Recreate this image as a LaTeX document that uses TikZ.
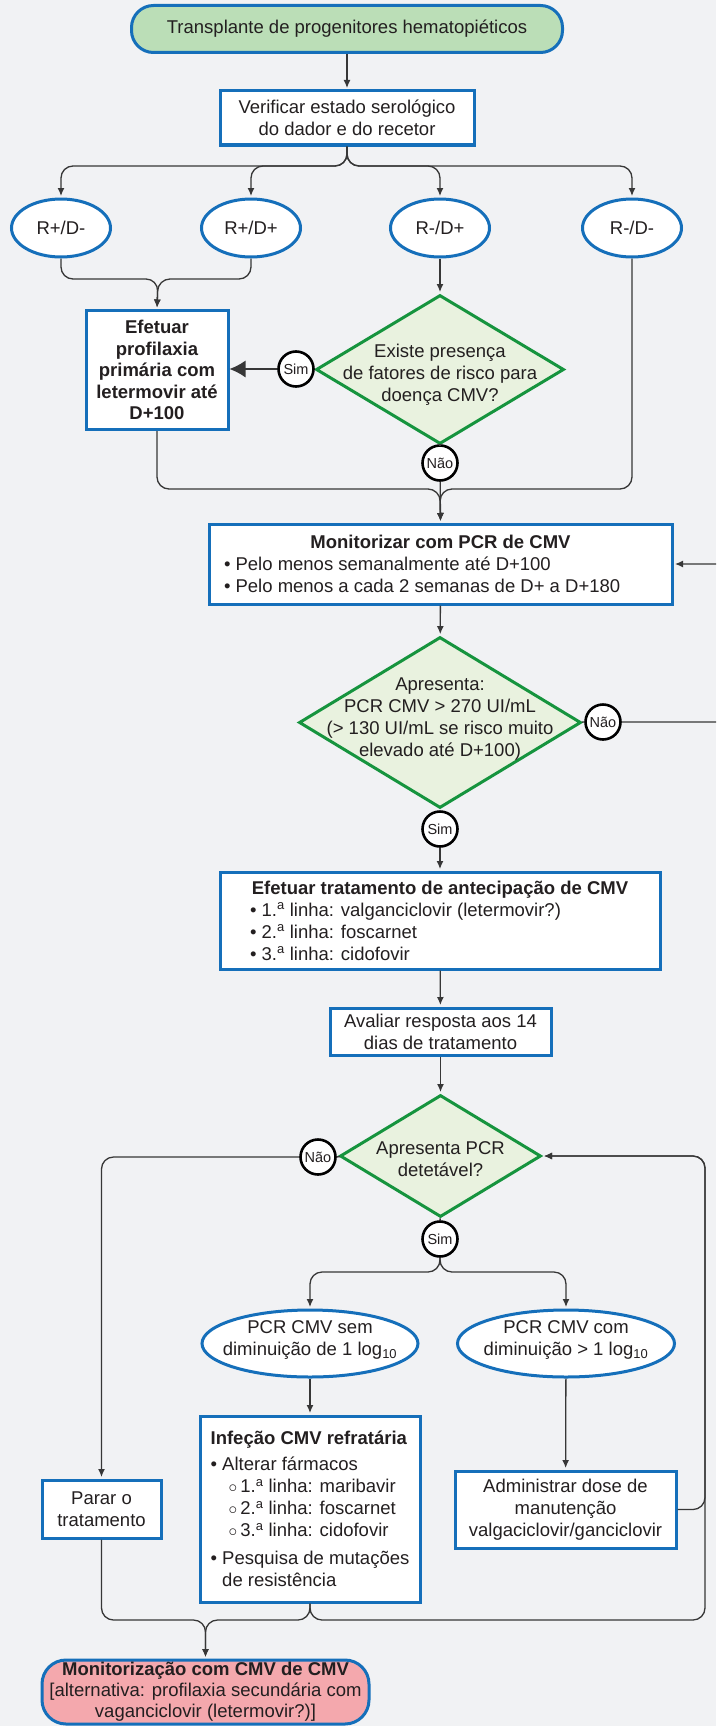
\documentclass[tikz,border=0pt]{standalone}
\usepackage{fontspec}
\setmainfont{Liberation Sans}
\usetikzlibrary{shapes.geometric,arrows.meta,positioning,calc}
\definecolor{bgpage}{RGB}{241,242,244}
\definecolor{boxblue}{RGB}{21,111,186}
\definecolor{startgreen}{RGB}{187,222,183}
\definecolor{diagreen}{RGB}{22,148,62}
\definecolor{diafill}{RGB}{233,242,223}
\definecolor{endpink}{RGB}{244,168,173}
\definecolor{linegray}{RGB}{55,55,55}
\definecolor{txtcol}{RGB}{35,31,32}

\tikzset{
  proc/.style={draw=boxblue, line width=3pt, fill=white, inner sep=0pt, align=center},
  term/.style={proc, rounded corners=22pt},
  oval/.style={ellipse, draw=boxblue, line width=3pt, fill=white, inner sep=0pt},
  decision/.style={diamond, draw=diagreen, line width=3pt, fill=diafill, inner sep=0pt},
  dtext/.style={align=center, inner sep=0pt},
  answer/.style={circle, draw=black, line width=2.6pt, fill=white, inner sep=0pt,
    minimum size=35pt, font=\fontsize{14.5}{16}\selectfont},
  conn/.style={draw=linegray, line width=1.3pt, rounded corners=12pt},
  arr/.style={conn, -{Latex[length=8pt,width=7pt]}, shorten >=1.5pt},
}

\begin{document}
\begin{tikzpicture}[x=1pt, y=-1pt, every node/.style={font=\fontsize{18.5}{22}\selectfont, text=txtcol}]

\useasboundingbox (0,0) rectangle (716,1726);
\fill[bgpage] (0,0) rectangle (716,1726);
\clip (0,0) rectangle (716,1726);

% Start and serology
\node[term, fill=startgreen, minimum width=431pt, minimum height=47pt] (start) at (347,29) {Transplante de progenitores hematopiéticos};
\node[proc, minimum width=254pt, minimum height=54pt] (verify) at (347,118) {Verificar estado serológico\\do dador e do recetor};

% Serostatus groups
\node[oval, minimum width=99pt, minimum height=58pt] (rpdm) at (61,228) {R+/D-};
\node[oval, minimum width=99pt, minimum height=58pt] (rpdp) at (251,228) {R+/D+};
\node[oval, minimum width=99pt, minimum height=58pt] (rmdp) at (440,228) {R-/D+};
\node[oval, minimum width=99pt, minimum height=58pt] (rmdm) at (632,228) {R-/D-};

% Prophylaxis decision
\node[proc, font=\fontsize{18.5}{21.5}\selectfont\bfseries, minimum width=142pt, minimum height=119pt] (prof) at (157,370) {Efetuar\\profilaxia\\primária com\\letermovir até\\D+100};
\node[decision, minimum width=248pt, minimum height=149pt,
  label={[dtext, yshift=-5pt]center:{Existe presença\\de fatores de risco para\\doença CMV?}}] (risk) at (440,369.5) {};
\node[answer] (sim1) at (296,369) {Sim};
\node[answer] (nao1) at (440,463) {Não};

% Monitoring
\node[proc, align=left, minimum width=463pt, minimum height=80pt] (monitor) at (440.5,564) {\makebox[433pt]{\bfseries Monitorizar com PCR de CMV}\\
  \textbullet\ Pelo menos semanalmente até D+100\\
  \textbullet\ Pelo menos a cada 2 semanas de D+ a D+180};
\node[decision, minimum width=282pt, minimum height=171pt,
  label={[dtext, yshift=3pt]center:{Apresenta:\\PCR CMV > 270 UI/mL\\(> 130 UI/mL se risco muito\\elevado até D+100)}}] (pcr) at (440,722.5) {};
\node[answer] (nao2) at (603,722) {Não};
\node[answer] (sim2) at (440,829) {Sim};

% Pre-emptive treatment
\node[proc, align=left, minimum width=440pt, minimum height=97pt] (treat) at (440,920.5) {\makebox[380pt]{\bfseries Efetuar tratamento de antecipação de CMV}\\
  \textbullet\ 1.\textsuperscript{a} linha: valganciclovir (letermovir?)\\
  \textbullet\ 2.\textsuperscript{a} linha: foscarnet\\
  \textbullet\ 3.\textsuperscript{a} linha: cidofovir};
\node[proc, minimum width=221pt, minimum height=47pt] (eval) at (440.5,1031.5) {Avaliar resposta aos 14\\dias de tratamento};
\node[decision, minimum width=201pt, minimum height=122pt,
  label={[dtext, yshift=-3pt]center:{Apresenta PCR\\detetável?}}] (det) at (440.5,1156) {};
\node[answer] (nao3) at (318,1157) {Não};
\node[answer] (sim3) at (440,1239) {Sim};

% Response
\node[oval, minimum width=216pt, minimum height=67pt,
  label={[dtext, yshift=4pt]center:{PCR CMV sem\\diminuição de 1 log\textsubscript{10}}}] (sem) at (310,1343.5) {};
\node[oval, minimum width=217pt, minimum height=67pt,
  label={[dtext, yshift=4pt]center:{PCR CMV com\\diminuição > 1 log\textsubscript{10}}}] (com) at (566,1343.5) {};
\node[proc, minimum width=119pt, minimum height=58pt] (stop) at (101.5,1509) {Parar o\\tratamento};
\node[proc, align=left, minimum width=220pt, minimum height=186pt] (refr) at (310,1509) {\textbf{Infeção CMV refratária}\\[4pt]
  \textbullet\ Alterar fármacos\\
  \hspace*{18pt}$\circ$\,1.\textsuperscript{a} linha: maribavir\\
  \hspace*{18pt}$\circ$\,2.\textsuperscript{a} linha: foscarnet\\
  \hspace*{18pt}$\circ$\,3.\textsuperscript{a} linha: cidofovir\\[6pt]
  \textbullet\ Pesquisa de mutações\\
  \phantom{\textbullet\ }de resistência};
\node[proc, minimum width=221pt, minimum height=77pt] (admin) at (565.5,1509.5) {Administrar dose de\\manutenção\\valgaciclovir/ganciclovir};
\node[term, fill=endpink, rounded corners=24pt, font=\fontsize{18.5}{21}\selectfont, minimum width=327pt, minimum height=64pt] (final) at (205.5,1692) {\textbf{Monitorização com CMV de CMV}\\{[}alternativa: profilaxia secundária com\\vaganciclovir (letermovir?)]};

% Junction points
\coordinate (split1) at (347,166);
\coordinate (join1) at (158,279);
\coordinate (join2) at (440,489);
\coordinate (loopN) at (740,722);
\coordinate (split2) at (440,1272);
\coordinate (loopR) at (705,1620);
\coordinate (join3) at (205.5,1620);

% Connectors
\draw[arr] (start) -- (verify);
\foreach \g in {rpdm,rpdp,rmdp,rmdm} {
  \draw[arr] (verify.south) -- (split1) -| (\g.north);
}
\draw[arr] (rpdm.south) |- (join1) -- (prof.north);
\draw[arr] (rpdp.south) |- (join1) -- (prof.north);
\draw[arr] (rmdp) -- (risk);
\draw[conn] (risk) -- (sim1);
\draw[conn, -{Latex[length=16pt,width=17pt]}] (sim1) -- (prof.east |- sim1);
\draw[conn] (risk) -- (nao1);
\draw[arr] (prof.south) |- (join2) -- (monitor.north);
\draw[arr] (rmdm.south) |- (join2) -- (monitor.north);
\draw[arr] (nao1) -- (monitor.north);

\draw[arr] (monitor) -- (pcr);
\draw[conn] (pcr) -- (nao2);
\draw[arr] (nao2) -- (loopN) |- (monitor.east);
\draw[conn] (pcr) -- (sim2);
\draw[arr] (sim2) -- (treat);
\draw[arr] (treat) -- (eval);
\draw[arr] (eval) -- (det);

\draw[conn] (det) -- (nao3);
\draw[arr] (nao3) -| (stop.north);
\draw[conn] (det) -- (sim3);
\draw[arr] (sim3) -- (split2) -| (sem.north);
\draw[arr] (sim3) -- (split2) -| (com.north);
\draw[arr] (sem) -- (refr);
\draw[arr] (com) -- (admin);
\draw[arr] (admin.east) -| (det.east -| loopR) -- (det.east);
\draw[arr] (refr.south) |- (loopR) |- (det.east);
\draw[arr] (stop.south) |- (join3) -- (final.north);
\draw[arr] (refr.south) |- (join3) -- (final.north);

\end{tikzpicture}
\end{document}
